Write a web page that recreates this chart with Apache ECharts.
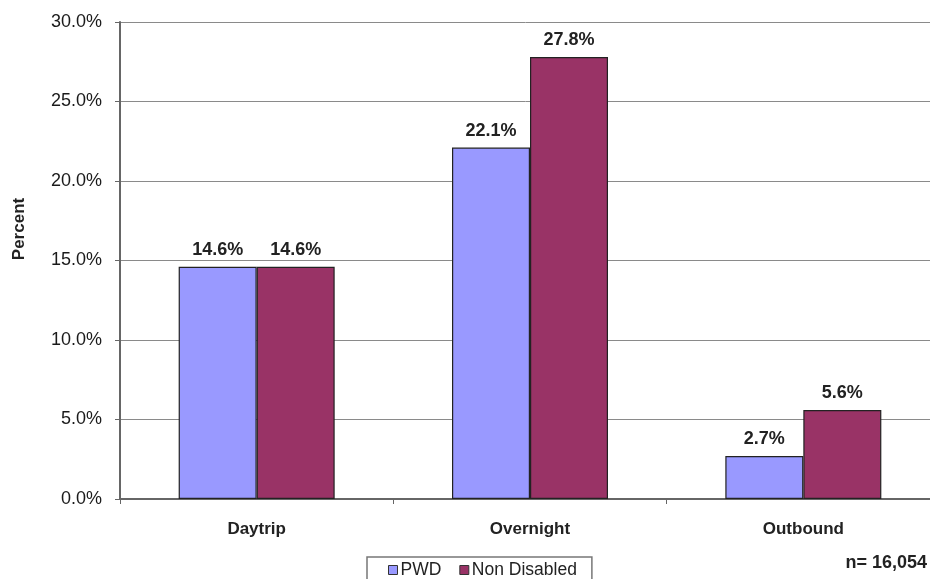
<!DOCTYPE html>
<html>
<head>
<meta charset="utf-8">
<script src="https://cdn.jsdelivr.net/npm/echarts@6/dist/echarts.min.js"></script>
<style>
  html, body { margin: 0; padding: 0; background: #fff; }
  #chart { width: 930px; height: 579px; }
</style>
</head>
<body>
<div id="chart"></div>
<script>
// Trip type shares by group
const categories = ['Daytrip', 'Overnight', 'Outbound'];
const pwdValues = [14.6, 22.1, 2.7];
const nonDisabledValues = [14.6, 27.8, 5.6];
const seriesNames = ['PWD', 'Non Disabled'];
const yAxisTitle = 'Percent';
const sampleNote = 'n= 16,054';

const FONT = '"Liberation Sans", Arial, sans-serif';
const chart = echarts.init(document.getElementById('chart'));

function barSeries(name, data, color) {
  return {
    name: name,
    type: 'bar',
    data: data,
    barWidth: 78,
    barGap: '0%',
    itemStyle: { color: color, borderColor: '#222', borderWidth: 1.2 },
    label: {
      show: true,
      position: 'top',
      distance: 8,
      formatter: p => p.value.toFixed(1) + '%',
      fontFamily: FONT,
      fontSize: 18,
      fontWeight: 'bold',
      color: '#222'
    }
  };
}

chart.setOption({
  animation: false,
  backgroundColor: '#fff',
  grid: { left: 120, top: 22, width: 820, bottom: 80, containLabel: false, outerBoundsMode: 'none' },
  legend: {
    data: seriesNames,
    left: 367,
    top: 557,
    padding: [4, 15, 12, 21],
    borderColor: '#777',
    borderWidth: 1.5,
    itemWidth: 9,
    itemHeight: 9,
    itemGap: 18,
    icon: 'rect',
    itemStyle: { borderColor: '#333', borderWidth: 1 },
    textStyle: { fontFamily: FONT, fontSize: 17.5, color: '#222', padding: [0, 0, 0, -2] }
  },
  xAxis: {
    type: 'category',
    data: categories,
    axisLine: { lineStyle: { color: '#666', width: 2 } },
    axisTick: { show: true, alignWithLabel: false, length: 5, lineStyle: { color: '#666' } },
    axisLabel: { fontFamily: FONT, fontSize: 17, fontWeight: 'bold', color: '#222', margin: 22 }
  },
  yAxis: {
    type: 'value',
    min: 0,
    max: 30,
    interval: 5,
    axisLine: { show: true, lineStyle: { color: '#666', width: 2 } },
    axisTick: { show: true, length: 5, lineStyle: { color: '#666' } },
    axisLabel: {
      fontFamily: FONT, fontSize: 18, color: '#1a1a1a', margin: 18,
      formatter: v => v.toFixed(1) + '%'
    },
    splitLine: { lineStyle: { color: '#8a8a8a', width: 1 } }
  },
  graphic: [{
    type: 'text',
    x: 19,
    y: 229,
    rotation: Math.PI / 2,
    style: {
      text: yAxisTitle,
      font: 'bold 17px ' + FONT,
      fill: '#222',
      align: 'center',
      verticalAlign: 'middle'
    }
  }, {
    type: 'text',
    right: 3,
    top: 554,
    style: { text: sampleNote, font: 'bold 18px ' + FONT, fill: '#222' }
  }],
  series: [
    barSeries(seriesNames[0], pwdValues, '#9999ff'),
    barSeries(seriesNames[1], nonDisabledValues, '#993366')
  ]
});
</script>
</body>
</html>
